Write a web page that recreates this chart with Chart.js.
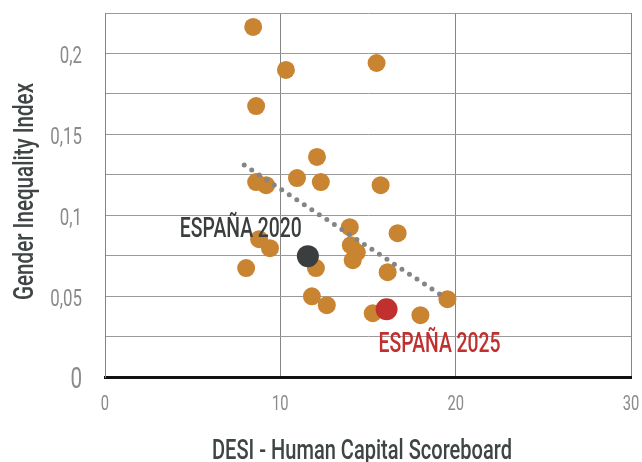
<!DOCTYPE html>
<html>
<head>
<meta charset="utf-8">
<script src="https://cdn.jsdelivr.net/npm/chart.js@4"></script>
<style>
  body { margin: 0; background: #fff; }
</style>
</head>
<body>
<canvas id="grafica" width="642" height="462"></canvas>
<script>
// DATOS
const desiPaises = [8.45, 10.32, 15.49, 8.62, 12.09, 10.95, 8.62, 9.19, 12.31, 15.72, 13.96, 16.69, 8.79, 9.41, 8.05, 14.02, 14.36, 14.13, 12.03, 16.12, 11.8, 12.65, 15.27, 17.99, 19.53];
const giiPaises = [0.2164, 0.1898, 0.1941, 0.1675, 0.136, 0.123, 0.1205, 0.1186, 0.1205, 0.1186, 0.0926, 0.0889, 0.0852, 0.0796, 0.0673, 0.0815, 0.0771, 0.0722, 0.0673, 0.0648, 0.0499, 0.0444, 0.0394, 0.0382, 0.0481];
const espana2020 = { x: 11.57, y: 0.0747 };
const espana2025 = { x: 16.06, y: 0.0419 };
const tendenciaX = [7.94, 19.36];
const tendenciaY = [0.131, 0.0493];
const ticksX = [0, 10, 20, 30];
const ticksY = [0, 0.05, 0.1, 0.15, 0.2];

const naranja = "#c98432";
const grisTexto = "#8a8a8a";
const oscuro = "#3f4444";

// texto "condensado": se estrecha en horizontal para parecerse a la fuente original
function texto(ctx, str, x, y, o) {
  ctx.save();
  ctx.font = (o.weight || 400) + " " + o.size + "px Roboto";
  ctx.fillStyle = o.color;
  ctx.translate(x, y);
  if (o.rot) ctx.rotate(o.rot);
  const w = ctx.measureText(str).width;
  const k = o.width ? o.width / w : 0.7;
  ctx.scale(k, 1);
  ctx.textAlign = o.align || "center";
  ctx.textBaseline = "alphabetic";
  ctx.fillText(str, 0, 0);
  ctx.restore();
}

// textos: ticks, titulos de ejes y etiquetas de España
const textos = {
  id: "textos",
  afterDraw(chart) {
    const { ctx, scales, chartArea } = chart;
    const x = scales.x, y = scales.y;
    ticksY.forEach((v) => {
      const py = y.getPixelForValue(v);
      if (v === 0) texto(ctx, "0", chartArea.left - 23, py + 11, { size: 29.5, color: grisTexto, align: "right" });
      else texto(ctx, String(v).replace(".", ","), chartArea.left - 23, py + 9.5, { size: 24, color: grisTexto, align: "right" });
    });
    ticksX.forEach((v) => {
      texto(ctx, String(v), x.getPixelForValue(v), chartArea.bottom + 33, { size: 21, color: grisTexto });
    });
    texto(ctx, "DESI - Human Capital Scoreboard", (chartArea.left + chartArea.right) / 2 - 6, 459, { size: 28, weight: 500, color: oscuro, width: 300 });
    texto(ctx, "Gender Inequality Index", 33, (chartArea.top + chartArea.bottom) / 2 - 3.5, { size: 28, weight: 500, color: oscuro, width: 217, rot: -Math.PI / 2 });
    texto(ctx, "ESPAÑA 2020", x.getPixelForValue(espana2020.x) - 67, y.getPixelForValue(espana2020.y) - 19, { size: 28, weight: 500, color: "#3b3e3e", width: 122 });
    texto(ctx, "ESPAÑA 2025", x.getPixelForValue(espana2025.x) + 53, y.getPixelForValue(espana2025.y) + 43, { size: 28, weight: 500, color: "#c0302f", width: 122 });
  }
};

new Chart(document.getElementById("grafica"), {
  type: "scatter",
  data: {
    datasets: [
      {
        type: "line",
        data: tendenciaX.map((v, i) => ({ x: v, y: tendenciaY[i] })),
        borderColor: "#858585",
        borderWidth: 5,
        borderDash: [0, 9],
        borderCapStyle: "round",
        pointRadius: 0,
        fill: false,
      },
      {
        data: [espana2025],
        backgroundColor: "#c0302f",
        pointRadius: 11,
        borderWidth: 0,
      },
      {
        data: [espana2020],
        backgroundColor: "#3b3e3e",
        pointRadius: 11,
        borderWidth: 0,
      },
      {
        data: desiPaises.map((v, i) => ({ x: v, y: giiPaises[i] })),
        backgroundColor: naranja,
        pointRadius: 9,
        borderWidth: 0,
      },
    ],
  },
  options: {
    responsive: false,
    animation: false,
    layout: { padding: { top: 13, right: 9, left: 0, bottom: 0 } },
    plugins: { legend: { display: false }, tooltip: { enabled: false } },
    scales: {
      x: {
        type: "linear",
        min: 0,
        max: 30,
        afterBuildTicks: (s) => { s.ticks = ticksX.map((v) => ({ value: v })); },
        afterFit: (s) => { s.height = 85; s.paddingLeft = 0; s.paddingRight = 0; },
        grid: { color: "#858585", lineWidth: 1, drawTicks: false },
        border: { color: "#111", width: 3 },
        ticks: { display: false },
      },
      y: {
        min: 0,
        max: 0.225,
        afterFit: (s) => { s.width = 105; s.paddingTop = 0; s.paddingBottom = 0; },
        grid: { color: "#9a9a9a", lineWidth: 1, drawTicks: false },
        border: { color: "#858585", width: 1 },
        ticks: { stepSize: 0.025, display: false },
      },
    },
  },
  plugins: [textos],
});
</script>
</body>
</html>
